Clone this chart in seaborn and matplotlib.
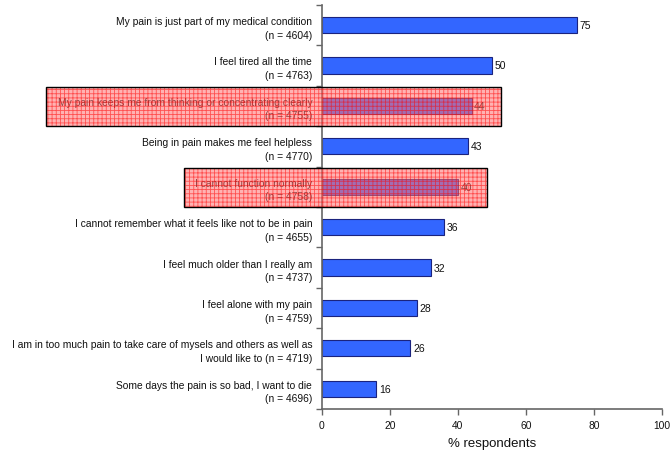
import numpy as np
import pandas as pd
import seaborn as sns
from matplotlib import pyplot as plt
from matplotlib.patches import Rectangle

sns.set_style('white')
plt.rcParams['font.family'] = ['Liberation Sans', 'DejaVu Sans']

statements = [
    'My pain is just part of my medical condition\n(n = 4604)',
    'I feel tired all the time\n(n = 4763)',
    'My pain keeps me from thinking or concentrating clearly\n(n = 4755)',
    'Being in pain makes me feel helpless\n(n = 4770)',
    'I cannot function normally\n(n = 4758)',
    'I cannot remember what it feels like not to be in pain\n(n = 4655)',
    'I feel much older than I really am\n(n = 4737)',
    'I feel alone with my pain\n(n = 4759)',
    'I am in too much pain to take care of mysels and others as well as\nI would like to (n = 4719)',
    'Some days the pain is so bad, I want to die\n(n = 4696)',
]
percent = [75, 50, 44, 43, 40, 36, 32, 28, 26, 16]
# rows that get the red highlight box, and how far the box runs (x in % units)
highlight_rows = [2, 4]
highlight_x = [(-81, 52.6), (-40.6, 48.7)]

data = pd.DataFrame({'statement': statements, 'percent': percent})

fig = plt.figure(figsize=(6.72, 4.52), dpi=100)
ax = fig.add_axes([0.479, 0.093, 0.506, 0.894])

sns.barplot(data=data, x='percent', y='statement', orient='h', color='#3366ff',
            saturation=1, width=0.4, edgecolor='#1a237e', linewidth=0.8, ax=ax)

# valeurs au bout des barres
for i, v in enumerate(percent):
    ax.text(v + 0.8, i, str(v), ha='left', va='center', fontsize=7.5, color='#111111')

ax.set_xlim(0, 100)
ax.set_ylim(9.5, -0.5)
ax.set_xticks(range(0, 101, 20))
ax.set_yticks(np.arange(-0.5, 10, 1), minor=True)
ax.tick_params(axis='y', which='major', length=0, pad=7, labelsize=7.4, labelcolor='#111111')
ax.tick_params(axis='y', which='minor', length=4, color='#666666', width=1, left=True)
ax.tick_params(axis='x', length=4, color='#666666', width=1, labelsize=7.4, bottom=True, pad=4,
               labelcolor='#111111')
for lab in ax.get_yticklabels():
    lab.set_horizontalalignment('right')
    lab.set_linespacing(1.45)
ax.set_xlabel('% respondents', fontsize=9.5, labelpad=5, color='#111111')
ax.set_ylabel('')
sns.despine(ax=ax)
ax.spines['left'].set_color('#666666')
ax.spines['bottom'].set_color('#666666')
ax.spines['left'].set_linewidth(1.2)
ax.spines['bottom'].set_linewidth(1.2)

plt.rcParams['hatch.linewidth'] = 0.6
for row, (x0, x1) in zip(highlight_rows, highlight_x):
    ax.add_patch(Rectangle((x0, row - 0.47), x1 - x0, 0.96, facecolor=(1, 0.45, 0.45, 0.55),
                           hatch='++++', edgecolor=(1, 0, 0, 0.55), linewidth=0,
                           clip_on=False, zorder=5))
    ax.add_patch(Rectangle((x0, row - 0.47), x1 - x0, 0.96, facecolor='none',
                           edgecolor='black', linewidth=1.0, clip_on=False, zorder=6))

fig.savefig('out.png', dpi=100)
